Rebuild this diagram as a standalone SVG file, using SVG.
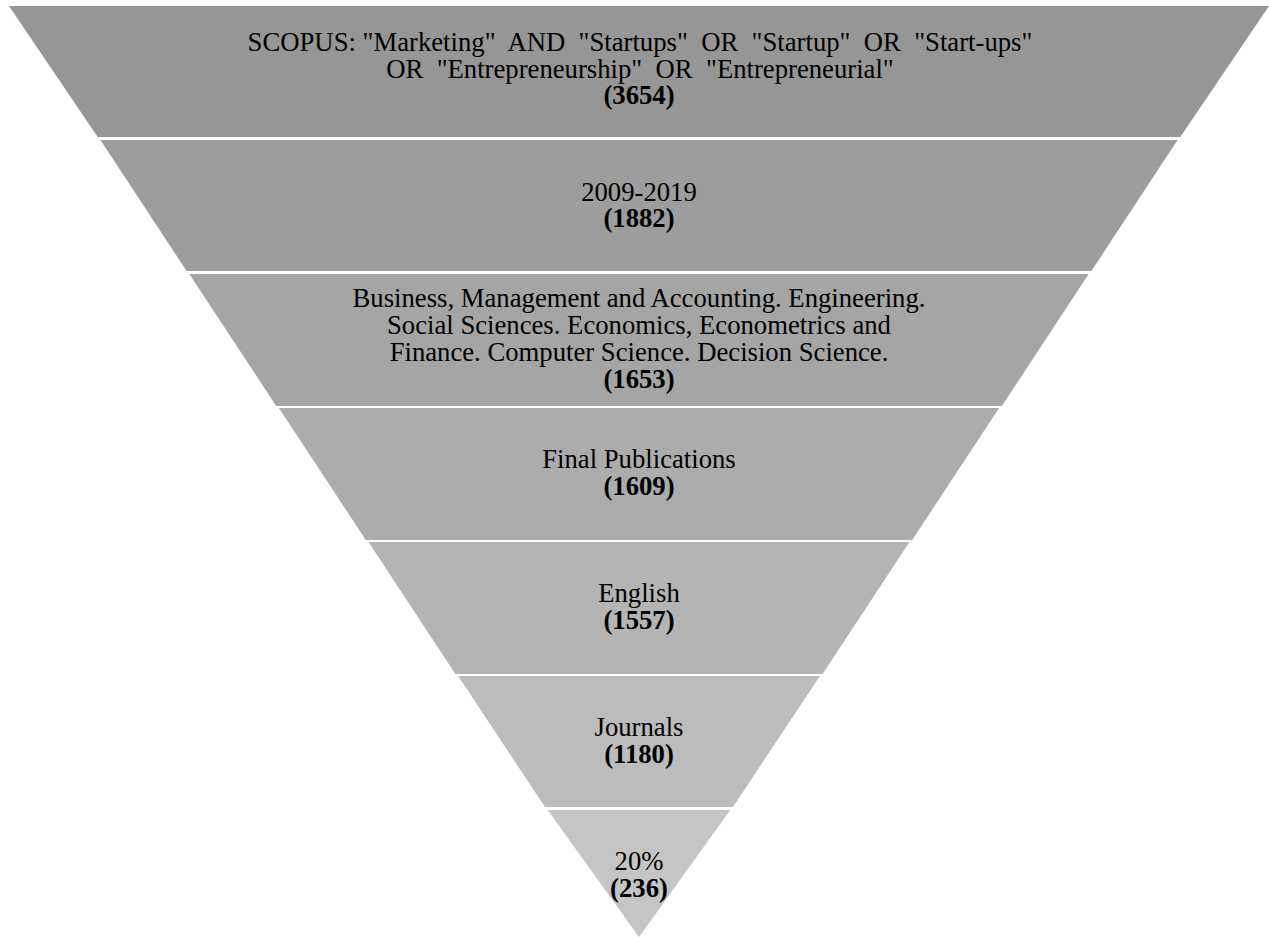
<svg xmlns="http://www.w3.org/2000/svg" width="1269" height="937" viewBox="0 0 1269 937">
<style>
text{font-family:"Liberation Serif","Times New Roman",serif;font-size:26.7px;fill:#000;text-anchor:middle;white-space:pre}
.b{font-weight:bold}
</style>
<rect width="1269" height="937" fill="#fff"/>
<g id="band1"><polygon points="9,6 1269,6 1180.3,137 97.7,137" fill="#969696"/>
<text x="640" y="51" xml:space="preserve">SCOPUS: "Marketing"  AND  "Startups"  OR  "Startup"  OR  "Start-ups"</text>
<text x="640" y="78" xml:space="preserve">OR  "Entrepreneurship"  OR  "Entrepreneurial"</text>
<text x="639" y="104" class="b">(3654)</text></g>
<g id="band2"><polygon points="100.4,140 1177.6,140 1091.4,271 186.6,271" fill="#9d9d9d"/>
<text x="639" y="201">2009-2019</text>
<text x="639" y="227" class="b">(1882)</text></g>
<g id="band3"><polygon points="189.3,274 1088.7,274 1001.8,406 276.2,406" fill="#a5a5a5"/>
<text x="639" y="307">Business, Management and Accounting. Engineering.</text>
<text x="639" y="334">Social Sciences. Economics, Econometrics and</text>
<text x="639" y="361">Finance. Computer Science. Decision Science.</text>
<text x="639" y="388" class="b">(1653)</text></g>
<g id="band4"><polygon points="278.9,408 999.1,408 912.2,540 365.8,540" fill="#acacac"/>
<text x="639" y="468">Final Publications</text>
<text x="639" y="495" class="b">(1609)</text></g>
<g id="band5"><polygon points="368.5,542 909.5,542 822.6,674 455.4,674" fill="#b4b4b4"/>
<text x="639" y="602">English</text>
<text x="639" y="629" class="b">(1557)</text></g>
<g id="band6"><polygon points="458.1,676 819.9,676 733.0,807 545.0,807" fill="#bcbcbc"/>
<text x="639" y="736">Journals</text>
<text x="639" y="763" class="b">(1180)</text></g>
<g id="band7"><polygon points="547.7,810 730.3,810 639,937" fill="#c5c5c5"/>
<text x="639" y="870">20%</text>
<text x="639" y="897" class="b">(236)</text></g>
<g id="connectors"></g>
</svg>
